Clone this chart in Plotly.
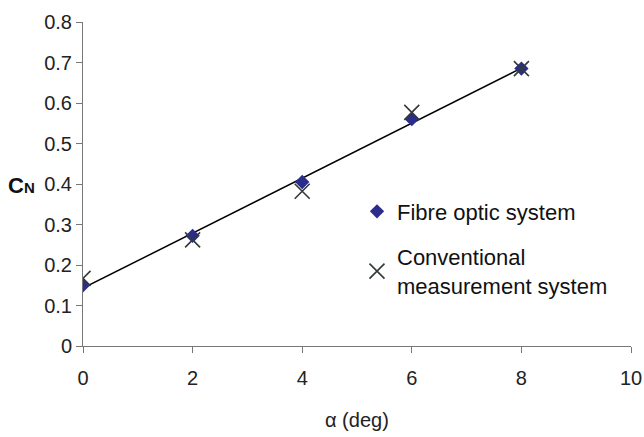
import numpy as np
import plotly.graph_objects as go

# Angle of attack (deg) and normal-force coefficient readings
alpha = [0, 2, 4, 6, 8]
cn_fibre = [0.150, 0.272, 0.405, 0.560, 0.685]
cn_conventional = [0.167, 0.262, 0.382, 0.577, 0.685]

x_ticks = [0, 2, 4, 6, 8, 10]
y_ticks = [0, 0.1, 0.2, 0.3, 0.4, 0.5, 0.6, 0.7, 0.8]

# Linear trend line fitted to the fibre optic readings
slope, intercept = np.polyfit(alpha, cn_fibre, 1)
fit_x = [alpha[0], alpha[-1]]
fit_y = [intercept + slope * v for v in fit_x]

FONT = "Liberation Sans, Arial, sans-serif"
PLOT_H = 437 - 22 - 91  # height of the plotting area in px

fig = go.Figure()
fig.add_trace(go.Scatter(
    x=fit_x, y=fit_y, mode="lines",
    line=dict(color="black", width=1.5),
    showlegend=False, hoverinfo="skip",
))
fig.add_trace(go.Scatter(
    x=alpha, y=cn_fibre, mode="markers", name="Fibre optic system",
    legendgroup="a",
    marker=dict(symbol="diamond", size=11, color="#2b2d8c",
                line=dict(width=0)),
))
fig.add_trace(go.Scatter(
    x=alpha, y=cn_conventional, mode="markers",
    name="Conventional<br>measurement system",
    legendgroup="b",
    marker=dict(symbol="x-thin", size=15, color="#333a38",
                line=dict(width=1.6, color="#333a38")),
))

# Horizontal y-axis label C_N (small N kept on the baseline)
fig.add_annotation(
    text="<b>C<span style='font-size:15px'>N</span></b>",
    xref="paper", yref="paper",
    x=-0.112, y=0.494, xanchor="center", yanchor="middle",
    showarrow=False, font=dict(size=22, family=FONT, color="#111111"),
)

# x-axis title
fig.add_annotation(
    text="α (deg)", xref="paper", yref="paper",
    x=0.5, y=-(420 - 346) / PLOT_H, xanchor="center", yanchor="middle",
    showarrow=False, font=dict(size=20, family=FONT, color="#222222"),
)

fig.update_layout(
    width=644, height=437,
    margin=dict(l=83, r=13, t=22, b=91),
    paper_bgcolor="white", plot_bgcolor="white",
    font=dict(family=FONT, size=20, color="#222222"),
    legend=dict(
        x=0.5, y=0.48, xanchor="left", yanchor="top",
        bgcolor="rgba(0,0,0,0)", tracegroupgap=14,
        font=dict(size=22, family=FONT, color="#111111"),
        itemwidth=30,
    ),
    xaxis=dict(
        range=[0, 10], tickvals=x_ticks, ticktext=[str(v) for v in x_ticks],
        automargin=False,
        showgrid=False, zeroline=False,
        showline=True, linecolor="#777777", linewidth=1,
        ticks="outside", ticklen=6, tickcolor="#777777",
        tickfont=dict(size=20), ticklabelstandoff=8,
    ),
    yaxis=dict(
        range=[0, 0.8], tickvals=y_ticks,
        ticktext=["0" if v == 0 else f"{v:.1f}" for v in y_ticks],
        automargin=False,
        showgrid=False, zeroline=False,
        showline=True, linecolor="#777777", linewidth=1,
        ticks="outside", ticklen=6, tickcolor="#777777",
        tickfont=dict(size=20),
    ),
)

fig.write_html("out.html")
